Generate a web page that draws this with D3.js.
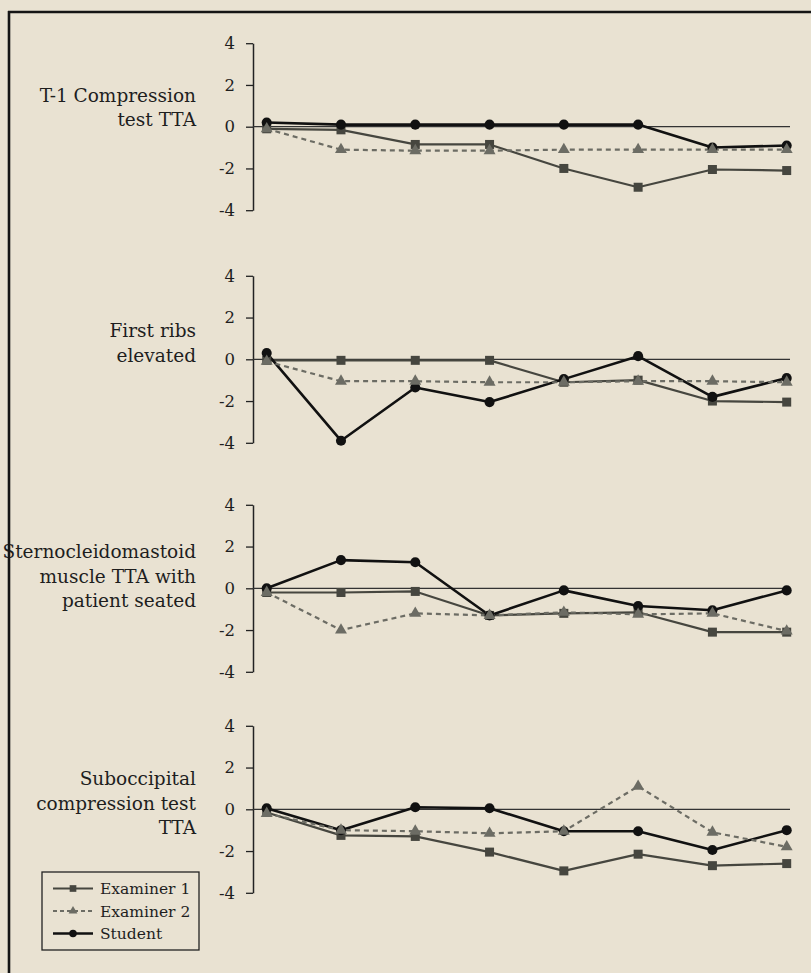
<!DOCTYPE html>
<html><head><meta charset="utf-8">
<script src="https://cdn.jsdelivr.net/npm/d3@7"></script>
<style>html,body{margin:0;padding:0;background:#e9e2d2;} svg{display:block}</style>
</head><body><svg id="chart" width="811" height="973"></svg>
<script>
// ---- data ----
const sessions = ["1","2","3","4","5","6","7","8"];
const yTicks = [-4, -2, 0, 2, 4];
const seriesNames = ["Examiner 1", "Examiner 2", "Student"];
const panelTitles = [
  ["T-1 Compression", "test TTA"],
  ["First ribs", "elevated"],
  ["Sternocleidomastoid", "muscle TTA with", "patient seated"],
  ["Suboccipital", "compression test", "TTA"]
];
const t1Examiner1 = [-0.1, -0.15, -0.85, -0.85, -2.0, -2.9, -2.05, -2.1];
const t1Examiner2 = [-0.1, -1.1, -1.15, -1.15, -1.1, -1.1, -1.1, -1.1];
const t1Student   = [0.2, 0.1, 0.1, 0.1, 0.1, 0.1, -1.0, -0.9];
const ribsExaminer1 = [-0.05, -0.05, -0.05, -0.05, -1.1, -1.0, -2.0, -2.05];
const ribsExaminer2 = [-0.1, -1.05, -1.05, -1.1, -1.1, -1.05, -1.05, -1.1];
const ribsStudent   = [0.3, -3.9, -1.35, -2.05, -0.95, 0.15, -1.8, -0.9];
const scmExaminer1 = [-0.2, -0.2, -0.15, -1.3, -1.2, -1.15, -2.1, -2.1];
const scmExaminer2 = [-0.2, -2.0, -1.2, -1.3, -1.15, -1.25, -1.2, -2.05];
const scmStudent   = [0.0, 1.35, 1.25, -1.3, -0.1, -0.85, -1.05, -0.1];
const subExaminer1 = [-0.15, -1.25, -1.3, -2.05, -2.95, -2.15, -2.7, -2.6];
const subExaminer2 = [-0.2, -1.0, -1.05, -1.15, -1.05, 1.1, -1.1, -1.8];
const subStudent   = [0.05, -1.0, 0.1, 0.05, -1.05, -1.05, -1.95, -1.0];

const panelData = [
  [t1Examiner1, t1Examiner2, t1Student],
  [ribsExaminer1, ribsExaminer2, ribsStudent],
  [scmExaminer1, scmExaminer2, scmStudent],
  [subExaminer1, subExaminer2, subStudent]
];

// ---- layout / style ----
const zeroY = [126.7, 359.3, 588.3, 809.3];
const labelBaseOffset = [-25, -22, -30, -24];
const halfH = 83.5;
const axisX = 253;
const serif = "'DejaVu Serif', serif";
const styles = [
  {color: "#46463f", width: 2.2, dash: null, symbol: d3.symbolSquare, size: 81},
  {color: "#6c6c64", width: 2.2, dash: "5,4", symbol: d3.symbolTriangle, size: 62},
  {color: "#111111", width: 2.6, dash: null, symbol: d3.symbolCircle, size: 80}
];
const drawOrder = [0, 2, 1];

const svg = d3.select("#chart");
svg.append("rect").attr("width", 811).attr("height", 973).attr("fill", "#e9e2d2");

const x = d3.scalePoint().domain(sessions).range([266.7, 786.7]);

panelData.forEach((series, p) => {
  const z = zeroY[p];
  const y = d3.scaleLinear().domain([-4, 4]).range([z + halfH, z - halfH]);
  const g = svg.append("g");

  // axis
  const ax = g.append("g").attr("transform", `translate(${axisX},0)`)
    .call(d3.axisLeft(y).tickValues(yTicks).tickFormat(d => String(d))
      .tickSize(7).tickSizeOuter(0).tickPadding(11));
  ax.attr("font-size", null).attr("font-family", null);
  ax.select(".domain").attr("stroke", "#222").attr("stroke-width", 1.5);
  ax.selectAll(".tick line").attr("stroke", "#222").attr("stroke-width", 1.3);
  ax.selectAll(".tick text").style("font-family", serif).style("font-size", "16.5px").attr("fill", "#1e1e1e");

  // zero line
  g.append("line").attr("x1", axisX).attr("x2", 790).attr("y1", y(0)).attr("y2", y(0))
    .attr("stroke", "#333").attr("stroke-width", 1.2);

  // label
  const lbl = g.append("text").style("font-family", serif).style("font-size", "18.5px")
    .attr("fill", "#1e1e1e").attr("text-anchor", "end");
  panelTitles[p].forEach((t, i) => {
    lbl.append("tspan").attr("x", 196).attr("y", z + labelBaseOffset[p] + i * 24.5).text(t);
  });

  const line = d3.line().x((d, i) => x(sessions[i])).y(d => y(d));
  drawOrder.forEach(s => {
    const st = styles[s];
    g.append("path").datum(series[s]).attr("d", line).attr("fill", "none")
      .attr("stroke", st.color).attr("stroke-width", st.width)
      .attr("stroke-dasharray", st.dash).attr("stroke-linejoin", "round");
  });
  drawOrder.forEach(s => {
    const st = styles[s];
    g.selectAll(null).data(series[s]).join("path")
      .attr("d", d3.symbol(st.symbol, st.size))
      .attr("transform", (d, i) => `translate(${x(sessions[i])},${y(d)})`)
      .attr("fill", st.color);
  });
});

// legend
const lg = svg.append("g");
lg.append("rect").attr("x", 42).attr("y", 872).attr("width", 157).attr("height", 78)
  .attr("fill", "none").attr("stroke", "#222").attr("stroke-width", 1.3);
const legendY = [888.5, 911, 933.5];
seriesNames.forEach((name, i) => {
  const st = styles[i];
  lg.append("line").attr("x1", 53).attr("x2", 93).attr("y1", legendY[i]).attr("y2", legendY[i])
    .attr("stroke", st.color).attr("stroke-width", st.width).attr("stroke-dasharray", st.dash ? "4,3" : null);
  lg.append("path").attr("d", d3.symbol(st.symbol, st.size * 0.55))
    .attr("transform", `translate(73,${legendY[i]})`).attr("fill", st.color);
  lg.append("text").attr("x", 100).attr("y", legendY[i] + 5.5).style("font-family", serif)
    .style("font-size", "15.5px").attr("fill", "#1e1e1e").text(name);
});

// frame
svg.append("line").attr("x1", 8).attr("x2", 811).attr("y1", 12).attr("y2", 12)
  .attr("stroke", "#151515").attr("stroke-width", 2.6);
svg.append("line").attr("x1", 9).attr("x2", 9).attr("y1", 11).attr("y2", 973)
  .attr("stroke", "#151515").attr("stroke-width", 2.6);
</script></body></html>
